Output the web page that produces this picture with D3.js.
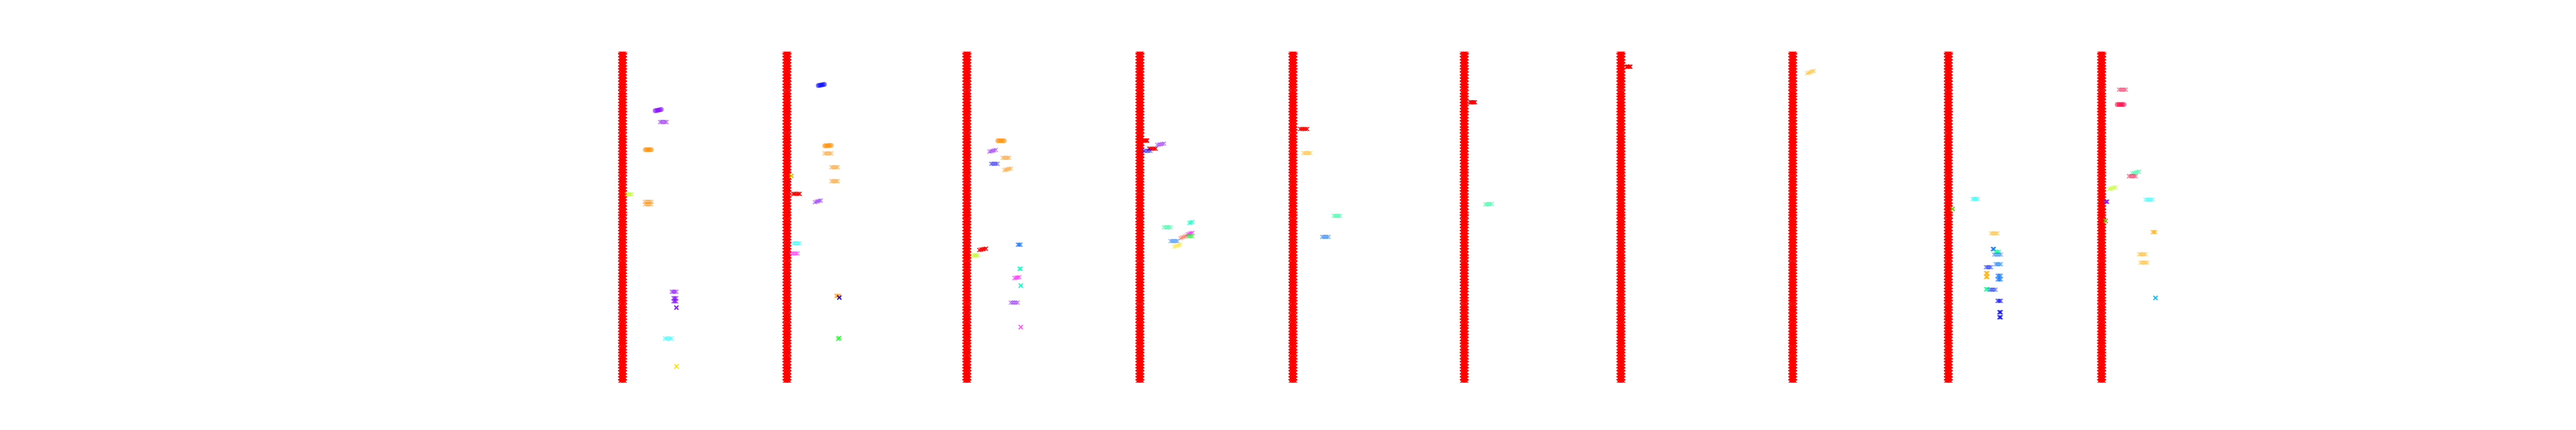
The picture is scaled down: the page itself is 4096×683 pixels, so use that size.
<!DOCTYPE html>
<html><head><meta charset="utf-8">
<script src="https://cdn.jsdelivr.net/npm/d3@7"></script>
<style>html,body{margin:0;padding:0;background:#fff;overflow:hidden}</style>
</head><body>
<svg id="chart" width="4096" height="683"></svg>
<script>
// ---------------- DATA ----------------
// x positions (data units) of the ten red strips
const stripX = [70.0, 108.3, 150.2, 190.5, 226.15, 266.05, 302.55, 342.56, 378.8, 414.5];
// x offsets of the five runs inside each red strip
const stripRuns = [-0.55, -0.275, 0, 0.275, 0.55];
// y values of the red series (same in every strip)
const redValues = [-1.7,-1.0,-0.3,0.4,1.1,1.9,2.5,3.3,4.0,4.6,5.5,6.1,6.8,7.7,8.3,9.0,9.8,10.4,11.2,11.9,12.5,13.4,
  14.0,14.7,15.6,16.2,16.9,17.8,18.4,19.1,19.9,20.6,21.3,22.1,22.7,23.5,24.2,24.9,25.7,26.3,27.0,27.9,
  28.5,29.2,30.0,30.7,31.4,32.2,32.8,33.6,34.3,35.0,35.8,36.4,37.1,38.0,38.6,39.3,40.1,40.8,41.5,42.3,
  42.9,43.7,44.4,45.1,45.9,46.5,47.2,48.1,48.7,49.4,50.2,50.9,51.6,52.4,53.0,53.8,54.5,55.2,56.0,56.6,
  57.3,58.2,58.8,59.5,60.3,61.0,61.7,62.5,63.1,63.9,64.6,65.3,66.1,66.7,67.4,68.3,68.9,69.6,70.4,71.1,
  71.8,72.6,73.2,74.0,74.7,75.4,76.2,76.8,77.4];

// series colours
const palette = {
  violet:'#8000ff', orange:'#ff8c00', chartreuse:'#b4ff00', cyan:'#00ffff', yellow:'#ffe000',
  blue:'#0000ff', red:'#ff0000', magenta:'#ff00ff', green:'#10ff20', spring:'#00ff90',
  aqua:'#00ffc0', coral:'#ff5030', crimson:'#ff0040', gold:'#ffb000', azure:'#0070ff',
  royal:'#0020ff', lime:'#60d000', sky:'#00b8ff', olive:'#d0c000', pink:'#ff50ff'
};

// groups of five runs: series, marker ('o' circle / 'x'), run x values, run y values
const groups = [
  // strip 1
  {s:'violet', m:'o', xs:[77.6,77.95,78.3,78.65,79.0], ys:[63.0,63.05,63.15,63.2,63.3]},
  {s:'violet', m:'x', xs:[78.75,79.1,79.5,79.9,80.25], ys:60.34},
  {s:'orange', m:'o', xs:[75.3,75.65,76.0,76.35,76.7], ys:53.78},
  {s:'chartreuse', m:'x', xs:[70.95,71.25,71.55,71.85,72.15], ys:43.24},
  {s:'orange', m:'x', xs:[75.2,75.6,76.0,76.35,76.75], ys:41.48},
  {s:'orange', m:'x', xs:[75.25,75.6,75.95,76.3,76.7], ys:40.86},
  {s:'violet', m:'x', xs:[81.45,81.7,82.0,82.25,82.55], ys:20.19},
  {s:'violet', m:'x', xs:[81.85,82.0,82.2,82.35,82.55], ys:18.64},
  {s:'violet', m:'x', xs:[81.85,82.0,82.2,82.35,82.55], ys:17.92},
  {s:'violet', m:'x', xs:[82.55,82.55,82.55,82.55,82.55], ys:16.42},
  {s:'cyan', m:'x', xs:[79.85,80.25,80.65,81.05,81.45], ys:9.13},
  {s:'yellow', m:'x', xs:[82.55,82.55,82.55,82.55,82.55], ys:2.51},
  // strip 2
  {s:'blue', m:'o', xs:[115.6,115.95,116.3,116.65,117.0], ys:[68.97,69.03,69.1,69.17,69.23]},
  {s:'orange', m:'o', xs:[117.1,117.45,117.85,118.2,118.6], ys:[54.71,54.73,54.75,54.78,54.8]},
  {s:'orange', m:'x', xs:[117.05,117.45,117.85,118.25,118.65], ys:52.9},
  {s:'orange', m:'x', xs:[118.65,119.0,119.4,119.8,120.15], ys:49.65},
  {s:'orange', m:'x', xs:[118.65,119.0,119.4,119.8,120.15], ys:46.34},
  {s:'olive', m:'x', xs:[109.35,109.35,109.35,109.35,109.35], ys:47.58},
  {s:'red', m:'x', xs:[109.75,110.1,110.5,110.9,111.25], ys:43.34},
  {s:'violet', m:'x', xs:[114.8,115.15,115.5,115.85,116.2], ys:[41.38,41.48,41.58,41.69,41.79]},
  {s:'cyan', m:'x', xs:[109.75,110.1,110.5,110.9,111.25], ys:31.66},
  {s:'magenta', m:'x', xs:[109.35,109.7,110.1,110.45,110.8], ys:29.23},
  {s:'orange', m:'x', xs:[119.75,119.95,120.1,120.3,120.5], ys:19.21},
  {s:'blue', m:'x', xs:[120.5,120.5,120.5,120.5,120.5], ys:18.8},
  {s:'green', m:'x', xs:[120.15,120.25,120.35,120.45,120.55], ys:[9.0,9.1,9.15,9.2,9.3]},
  // strip 3
  {s:'orange', m:'o', xs:[157.4,157.75,158.15,158.5,158.9], ys:55.9},
  {s:'violet', m:'x', xs:[155.45,155.8,156.2,156.55,156.95], ys:[53.32,53.42,53.52,53.63,53.73]},
  {s:'orange', m:'x', xs:[158.55,158.9,159.3,159.65,160.05], ys:51.87},
  {s:'blue', m:'x', xs:[155.85,156.2,156.6,156.95,157.35], ys:50.47},
  {s:'orange', m:'x', xs:[158.95,159.3,159.7,160.05,160.45], ys:[48.97,49.06,49.15,49.25,49.34]},
  {s:'red', m:'x', xs:[153.1,153.5,153.9,154.25,154.65], ys:[30.06,30.14,30.22,30.3,30.37]},
  {s:'chartreuse', m:'x', xs:[151.6,151.9,152.2,152.45,152.75], ys:28.77},
  {s:'azure', m:'x', xs:[162.05,162.2,162.4,162.55,162.75], ys:31.3},
  {s:'aqua', m:'x', xs:[162.45,162.5,162.6,162.7,162.75], ys:25.62},
  {s:'magenta', m:'x', xs:[161.25,161.55,161.85,162.15,162.45], ys:[23.4,23.46,23.52,23.58,23.65]},
  {s:'aqua', m:'x', xs:[162.75,162.75,162.75,162.75,162.75], ys:21.64},
  {s:'violet', m:'x', xs:[160.45,160.85,161.25,161.65,162.05], ys:17.6},
  {s:'pink', m:'x', xs:[162.75,162.75,162.75,162.75,162.75], ys:11.82},
  // strip 4
  {s:'red', m:'x', xs:[191.4,191.6,191.8,192.0,192.2], ys:55.95},
  {s:'red', m:'x', xs:[192.65,193.0,193.4,193.8,194.15], ys:54.04},
  {s:'blue', m:'x', xs:[191.45,191.8,192.2,192.55,192.95], ys:53.52},
  {s:'violet', m:'x', xs:[194.55,194.95,195.35,195.75,196.15], ys:[54.92,55.0,55.08,55.15,55.23]},
  {s:'spring', m:'x', xs:[196.1,196.5,196.9,197.25,197.65], ys:35.43},
  {s:'aqua', m:'x', xs:[201.95,202.15,202.35,202.55,202.75], ys:[36.45,36.5,36.57,36.63,36.7]},
  {s:'coral', m:'x', xs:[199.95,200.3,200.65,201.0,201.35], ys:[32.85,33.0,33.14,33.28,33.42]},
  {s:'magenta', m:'x', xs:[201.65,201.9,202.2,202.45,202.75], ys:[33.73,33.83,33.94,34.04,34.14]},
  {s:'green', m:'x', xs:[201.75,202.0,202.25,202.5,202.75], ys:33.32},
  {s:'azure', m:'x', xs:[197.65,198.05,198.45,198.85,199.25], ys:32.18},
  {s:'yellow', m:'x', xs:[198.45,198.85,199.2,199.6,199.95], ys:[30.83,30.96,31.09,31.22,31.35]},
  // strip 5
  {s:'red', m:'x', xs:[227.85,228.25,228.65,229.05,229.45], ys:58.69},
  {s:'gold', m:'x', xs:[228.6,229.0,229.4,229.8,230.2], ys:53.0},
  {s:'spring', m:'x', xs:[235.65,236.0,236.4,236.75,237.15], ys:38.12},
  {s:'azure', m:'x', xs:[232.95,233.3,233.7,234.05,234.45], ys:33.16},
  // strip 6
  {s:'red', m:'x', xs:[267.45,267.7,268.0,268.25,268.55], ys:65.0},
  {s:'spring', m:'x', xs:[270.95,271.3,271.7,272.05,272.45], ys:[40.85,40.88,40.91,40.94,40.97]},
  // strip 7
  {s:'red', m:'x', xs:[303.9,304.1,304.3,304.55,304.75], ys:73.42},
  // strip 8
  {s:'gold', m:'x', xs:[345.9,346.3,346.7,347.1,347.5], ys:[71.87,72.0,72.15,72.3,72.44]},
  // strip 9
  {s:'cyan', m:'x', xs:[384.45,384.75,385.05,385.35,385.65], ys:42.15},
  {s:'lime', m:'x', xs:[379.8,379.8,379.8,379.8,379.8], ys:39.78},
  {s:'gold', m:'x', xs:[388.75,389.1,389.5,389.9,390.25], ys:33.99},
  {s:'azure', m:'x', xs:[389.15,389.2,389.3,389.4,389.45], ys:30.27},
  {s:'spring', m:'x', xs:[389.75,390.0,390.2,390.45,390.65], ys:29.65},
  {s:'azure', m:'x', xs:[389.45,389.85,390.25,390.65,391.05], ys:28.97},
  {s:'azure', m:'x', xs:[389.8,390.1,390.4,390.75,391.05], ys:26.7},
  {s:'royal', m:'x', xs:[387.55,387.85,388.15,388.45,388.75], ys:25.98},
  {s:'gold', m:'x', xs:[387.55,387.65,387.75,387.85,387.95], ys:24.58},
  {s:'gold', m:'x', xs:[387.55,387.65,387.75,387.85,387.95], ys:23.7},
  {s:'azure', m:'x', xs:[390.25,390.45,390.65,390.85,391.05], ys:23.96},
  {s:'azure', m:'x', xs:[390.25,390.45,390.65,390.85,391.05], ys:23.08},
  {s:'spring', m:'x', xs:[387.55,387.65,387.75,387.85,387.95], ys:20.76},
  {s:'royal', m:'x', xs:[388.45,388.8,389.1,389.45,389.8], ys:20.65},
  {s:'blue', m:'x', xs:[390.25,390.45,390.65,390.85,391.05], ys:18.02},
  {s:'blue', m:'x', xs:[390.65,390.75,390.85,390.95,391.05], ys:15.33},
  {s:'blue', m:'x', xs:[390.65,390.75,390.85,390.95,391.05], ys:14.14},
  // strip 10
  {s:'crimson', m:'x', xs:[418.55,418.95,419.35,419.75,420.15], ys:67.99},
  {s:'crimson', m:'o', xs:[418.15,418.55,418.95,419.3,419.7], ys:64.48},
  {s:'spring', m:'x', xs:[421.65,422.05,422.45,422.85,423.25], ys:[48.2,48.3,48.4,48.5,48.61]},
  {s:'crimson', m:'x', xs:[420.85,421.25,421.65,422.05,422.45], ys:47.53},
  {s:'chartreuse', m:'x', xs:[416.25,416.6,417.0,417.35,417.75], ys:[44.48,44.58,44.68,44.79,44.89]},
  {s:'violet', m:'x', xs:[415.45,415.55,415.65,415.75,415.85], ys:41.48},
  {s:'cyan', m:'x', xs:[424.75,425.15,425.55,425.95,426.35], ys:41.95},
  {s:'lime', m:'x', xs:[415.45,415.45,415.45,415.45,415.45], ys:36.93},
  {s:'gold', m:'x', xs:[426.35,426.5,426.7,426.85,427.05], ys:34.3},
  {s:'gold', m:'x', xs:[423.25,423.6,424.0,424.35,424.75], ys:29.03},
  {s:'gold', m:'x', xs:[423.55,423.95,424.35,424.75,425.15], ys:27.06},
  {s:'sky', m:'x', xs:[427.05,427.05,427.05,427.05,427.05], ys:18.74}
];

// ---------------- DRAWING ----------------
const W = 4096, H = 683, k = W / 6000;
const svg = d3.select('#chart');
const plot = {left: 750 * k, right: 5400 * k, top: 120 * k, bottom: 890 * k};

const x = d3.scaleLinear().domain([0, 465]).range([plot.left, plot.right]);
const y = d3.scaleLinear().domain([-1.3, 77]).range([plot.bottom, plot.top]);

svg.append('defs').append('clipPath').attr('id', 'clip')
  .append('rect').attr('x', plot.left).attr('y', plot.top)
  .attr('width', plot.right - plot.left).attr('height', plot.bottom - plot.top);

const g = svg.append('g').attr('clip-path', 'url(#clip)');

const h = 4.6 * k;          // half size of x marker
const xPath = `M${-h},${-h}L${h},${h}M${-h},${h}L${h},${-h}`;
const rCircle = 5.2 * k;
const sw = 2.1 * k;

// red strips
const redPts = [];
stripX.forEach(sx => redValues.forEach(v => stripRuns.forEach(o => redPts.push({x: sx + o, y: v}))));
g.append('g').selectAll('path').data(redPts).join('path')
  .attr('d', xPath)
  .attr('transform', d => `translate(${x(d.x)},${y(d.y)})`)
  .attr('fill', 'none').attr('stroke', palette.red).attr('stroke-width', sw);

// groups
const pts = [];
groups.forEach(gr => gr.xs.forEach((xv, i) => pts.push({
  x: xv, y: Array.isArray(gr.ys) ? gr.ys[i] : gr.ys, s: gr.s, m: gr.m
})));

const layer = g.append('g');
layer.selectAll('path.mx').data(pts.filter(d => d.m === 'x')).join('path')
  .attr('class', 'mx')
  .attr('d', xPath)
  .attr('transform', d => `translate(${x(d.x)},${y(d.y)})`)
  .attr('fill', 'none')
  .attr('stroke', d => palette[d.s])
  .attr('stroke-width', sw)
  .attr('stroke-opacity', d => d.s === 'red' ? 1 : 0.5);

layer.selectAll('circle.mo').data(pts.filter(d => d.m === 'o')).join('circle')
  .attr('class', 'mo')
  .attr('cx', d => x(d.x)).attr('cy', d => y(d.y)).attr('r', rCircle)
  .attr('fill', d => palette[d.s]).attr('fill-opacity', 0.5)
  .attr('stroke', d => palette[d.s]).attr('stroke-opacity', 0.6).attr('stroke-width', 1 * k);
</script>
</body></html>
